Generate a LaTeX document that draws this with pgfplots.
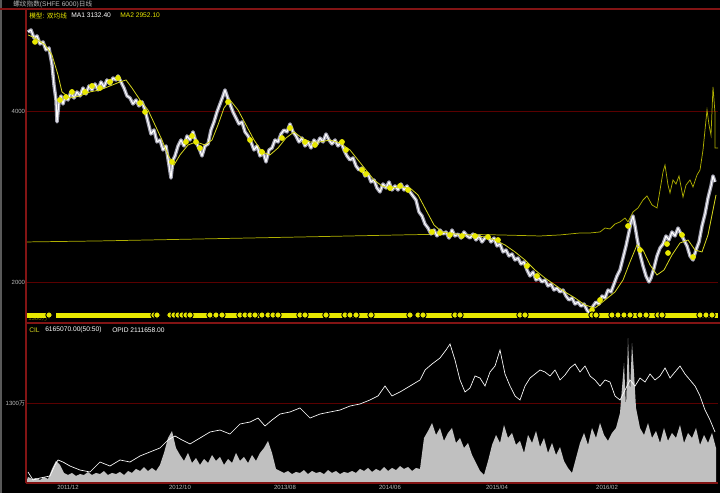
\documentclass[border=0pt]{standalone}
\usepackage{fontspec}
\setmainfont{Liberation Sans}
\newfontfamily\cjk{Noto Sans CJK SC}
\usepackage{pgfplots}
\usepackage{pgfplotstable}
\pgfplotsset{compat=1.18}

\definecolor{frame}{RGB}{130,20,20}
\definecolor{gridred}{RGB}{90,0,0}
\definecolor{ylw}{RGB}{232,232,0}
\definecolor{ma}{RGB}{215,215,30}
\definecolor{longma}{RGB}{175,175,0}
\definecolor{txt}{RGB}{185,185,185}
\definecolor{vol}{RGB}{192,192,192}
\definecolor{band}{RGB}{160,160,175}

% daily close (bar index, price)
\pgfplotstableread{
x p
2 4925
5 4948
8 4854
11 4878
14 4784
17 4808
20 4714
23 4737
26 4539
28 4305
30 4129
31 3872
33 4106
35 4176
37 4082
39 4164
42 4129
45 4223
48 4152
51 4223
54 4176
57 4269
60 4199
63 4293
66 4246
69 4316
72 4246
75 4340
78 4281
81 4363
84 4316
87 4386
90 4363
92 4410
95 4340
98 4269
101 4176
104 4152
107 4082
110 4129
113 4059
116 4106
119 4012
122 3872
125 3731
128 3778
131 3638
134 3661
137 3544
140 3591
143 3368
145 3216
147 3427
149 3474
152 3591
155 3661
158 3591
161 3708
164 3661
167 3755
170 3638
173 3567
176 3474
179 3591
182 3614
185 3778
188 3872
191 3989
194 4082
197 4176
199 4246
201 4176
204 4082
207 3989
210 3918
213 3848
216 3872
219 3755
222 3708
225 3638
228 3544
231 3591
234 3474
237 3521
240 3404
243 3544
246 3567
249 3661
252 3638
255 3731
258 3778
261 3755
264 3848
267 3755
270 3708
273 3638
276 3684
279 3591
282 3638
285 3567
288 3661
291 3614
294 3684
297 3638
300 3731
303 3661
306 3614
309 3661
312 3591
315 3638
318 3544
321 3474
324 3427
327 3451
330 3357
333 3310
336 3333
339 3240
342 3263
345 3170
348 3193
351 3099
354 3053
357 3146
360 3099
363 3170
366 3076
369 3123
372 3076
375 3146
378 3076
381 3123
384 3053
387 3006
390 2959
393 2819
396 2772
399 2678
402 2631
405 2561
408 2608
411 2538
414 2608
417 2561
420 2585
423 2514
426 2608
429 2538
432 2561
435 2514
438 2585
441 2538
444 2514
447 2561
450 2491
453 2538
456 2468
459 2514
462 2538
465 2468
468 2514
471 2421
474 2444
477 2351
480 2374
483 2304
486 2327
489 2257
492 2280
495 2210
498 2234
501 2140
504 2070
507 2117
510 2023
513 2046
516 2000
519 2023
522 1953
525 1976
528 1906
531 1929
534 1883
537 1906
540 1836
543 1789
546 1813
549 1742
552 1766
555 1717
558 1742
561 1671
564 1625
567 1717
570 1766
573 1742
576 1836
579 1813
582 1906
585 1883
588 1976
591 2070
594 2140
597 2280
600 2421
603 2585
605 2702
607 2772
609 2655
611 2514
614 2327
617 2187
620 2070
623 2000
625 2046
628 2163
631 2304
634 2397
637 2444
640 2538
643 2491
646 2585
649 2538
652 2631
655 2561
658 2491
661 2421
664 2304
667 2257
670 2374
673 2468
676 2655
679 2795
682 2982
685 3123
687 3240
689 3170
}\pricedata

\pgfplotsset{
  panel/.style={
    scale only axis, width=519pt, xmin=0, xmax=692,
    axis line style={draw=none}, major tick length=0pt,
    ymajorgrids, grid style={gridred, line width=0.6pt},
    tick label style={font=\fontsize{4.5}{5}\selectfont, text=txt, inner sep=0.5pt},
    /pgf/number format/assume math mode=true,
    scaled y ticks=false,
  }
}

\begin{document}
\begin{tikzpicture}
\fill[black] (0,0) rectangle (540pt,369.75pt);
\useasboundingbox (0,0) rectangle (540pt,369.75pt);

\begin{scope}[x=0.75pt,y=-0.75pt,shift={(0pt,369.75pt)}]
  \fill[black!65] (0,0) rectangle (1.5,493);
  \node[anchor=west, inner sep=0, text=longma!70!black, font=\fontsize{4.5}{5}\selectfont] at (28,318) {1300{\cjk 万}};
\end{scope}

% price panel
\begin{axis}[panel, at={(19.5pt,127.5pt)}, anchor=south west, height=235.5pt,
  ymin=1520, ymax=5193, xtick=\empty, ytick={2000,4000}, yticklabels={2000,4000},
  unbounded coords=jump]
% long-term line
\addplot[longma, line width=0.55pt] coordinates {
(0,2468)(74,2480)(174,2503)(274,2526)(374,2550)(424,2561)(474,2550)(514,2538)(534,2550)
(554,2573)(564,2573)(574,2585)(579,2631)(584,2620)(589,2678)(594,2702)(599,2748)(602,2702)
(607,2819)(612,2866)(617,2959)(621,3006)(626,2901)(631,2866)(634,3076)(637,3287)(639,3368)
(642,3134)(644,3041)(647,3193)(650,3146)(653,3240)(657,2994)(660,3134)(664,3193)(667,3111)
(671,3251)(674,3310)(677,3544)(679,3778)(681,4012)(683,3837)(685,3719)(687,4281)(689,3977)
(689,3567)(692,3567)};
% price band and price line
\addplot[band, line width=2.6pt, line join=round] table[x=x, y=p] {\pricedata};
\addplot[white, line width=0.8pt, line join=round] table[x=x, y=p] {\pricedata};
% moving average
\addplot[ma, line width=0.6pt] coordinates {
(2,4890)(9,4854)(19,4773)(26,4656)(32,4422)(36,4223)(44,4152)(54,4176)(64,4223)(74,4246)
(84,4293)(94,4340)(100,4363)(106,4269)(114,4129)(122,4012)(129,3837)(136,3661)(142,3486)
(148,3368)(154,3486)(162,3602)(170,3638)(179,3602)(186,3661)(192,3837)(198,4035)(204,4129)
(212,4012)(220,3837)(228,3661)(236,3521)(244,3486)(252,3567)(260,3684)(268,3755)(276,3684)
(284,3638)(294,3638)(304,3661)(314,3626)(324,3544)(332,3427)(340,3310)(348,3193)(356,3123)
(364,3099)(374,3111)(384,3099)(392,3018)(400,2842)(408,2667)(416,2585)(429,2561)(444,2550)
(459,2526)(469,2491)(479,2433)(489,2351)(499,2257)(509,2140)(519,2046)(529,1965)(539,1883)
(549,1813)(559,1731)(569,1695)(579,1789)(589,1883)(597,2023)(604,2234)(611,2433)(617,2374)
(624,2199)(631,2082)(638,2140)(646,2316)(654,2456)(662,2491)(669,2374)(676,2351)(682,2550)
(688,2901)(690,3018)};
% crossover dots
\addplot[only marks, mark=*, mark size=1.9pt, mark options={fill=ylw, draw=ylw}] coordinates {
(9,4808)(34,4129)(40,4164)(46,4223)(59,4223)(66,4293)(74,4269)(84,4340)(92,4386)(114,4094)
(119,3989)(146,3404)(160,3638)(166,3708)(170,3638)(174,3567)(202,4106)(224,3661)(236,3521)
(256,3684)(264,3801)(279,3638)(289,3602)(316,3638)(320,3544)(336,3310)(340,3263)(364,3099)
(374,3123)(382,3076)(406,2585)(414,2573)(424,2550)(436,2538)(449,2538)(462,2526)(472,2491)
(501,2187)(511,2070)(566,1671)(574,1789)(602,2655)(614,2374)(641,2444)(642,2339)(656,2550)
(667,2292)};
% signal strip
\addplot[ylw, line width=3.8pt] coordinates {
(0,1613)(24,1613)(27,nan)(30,1613)(131,1613)(137,nan)(144,1613)(189,1613)(192,nan)
(196,1613)(214,1613)(216,nan)(219,1613)(236,1613)(239,nan)(242,1613)(274,1613)(276,nan)
(279,1613)(319,1613)(321,nan)(324,1613)(384,1613)(388,nan)(392,1613)(429,1613)(431,nan)
(434,1613)(494,1613)(496,nan)(499,1613)(692,1613)};
\addplot[only marks, mark=*, mark size=2.4pt, mark options={fill=ylw, draw=black, line width=0.7pt}] coordinates {
(23,1613)(128,1613)(131,1613)(144,1613)(148,1613)(152,1613)(156,1613)(160,1613)(164,1613)
(184,1613)(190,1613)(196,1613)(214,1613)(219,1613)(224,1613)(229,1613)(236,1613)(242,1613)
(247,1613)(252,1613)(274,1613)(279,1613)(300,1613)(319,1613)(324,1613)(330,1613)(345,1613)
(384,1613)(392,1613)(397,1613)(429,1613)(434,1613)(494,1613)(499,1613)(566,1613)(570,1613)
(586,1613)(592,1613)(598,1613)(604,1613)(614,1613)(620,1613)(632,1613)(636,1613)(674,1613)
(680,1613)(686,1613)};
\end{axis}

% volume / open interest panel
\begin{axis}[panel, at={(19.5pt,7.5pt)}, anchor=south west, height=120pt,
  ymin=0, ymax=2600, ytick={1300}, yticklabels={1300{\cjk 万}},
  xtick={42,154,259,364,471,581},
  xticklabels={2011/12,2012/10,2013/08,2014/06,2015/04,2016/02},
  xticklabel shift=1.2pt]
\addplot[fill=vol, draw=none] coordinates {
(0,0)(2,98)(6,65)(10,81)(14,49)(18,98)(22,65)(26,228)(30,358)(34,293)(38,163)(42,130)(46,163)
(50,114)(54,146)(58,130)(62,179)(66,130)(70,163)(74,146)(78,195)(82,130)(86,163)(90,146)
(94,179)(98,130)(102,195)(106,163)(110,228)(114,195)(118,260)(122,195)(126,244)(130,195)
(134,293)(138,488)(142,731)(146,845)(150,569)(154,455)(158,358)(162,488)(166,325)(170,406)
(174,293)(178,390)(182,325)(186,455)(190,358)(194,423)(198,293)(202,390)(206,325)(210,488)
(214,358)(218,423)(222,325)(226,455)(230,358)(234,488)(238,569)(242,683)(246,488)(250,228)
(254,195)(258,163)(262,195)(266,146)(270,179)(274,163)(278,211)(282,146)(286,195)(290,163)
(294,179)(298,146)(302,211)(306,163)(310,195)(314,146)(318,179)(322,163)(326,195)(330,163)
(334,228)(338,195)(342,244)(346,179)(350,228)(354,195)(358,260)(362,195)(366,244)(370,211)
(374,276)(378,228)(382,260)(386,195)(390,244)(394,228)(398,731)(402,845)(406,975)(410,780)
(414,894)(418,683)(422,813)(426,894)(430,650)(434,731)(438,569)(442,650)(446,455)(450,325)
(454,195)(458,130)(462,358)(466,618)(470,780)(474,650)(478,943)(482,731)(486,813)(490,618)
(494,683)(498,488)(502,780)(506,650)(510,845)(514,585)(518,731)(522,488)(526,650)(530,455)
(534,585)(538,358)(542,244)(546,163)(550,406)(554,650)(558,813)(562,618)(566,894)(570,731)
(574,975)(578,780)(582,683)(586,813)(590,894)(594,1138)(598,1950)(600,1219)(602,2356)
(604,1463)(606,2275)(608,1788)(610,1219)(614,894)(618,780)(622,975)(626,731)(630,845)
(634,650)(638,894)(642,683)(646,813)(650,731)(654,943)(658,650)(662,813)(666,731)(670,894)
(674,618)(678,780)(682,650)(686,813)(690,569)(690,0)} \closedcycle;
\addplot[white, line width=0.5pt] coordinates {
(2,179)(7,49)(14,81)(24,114)(29,293)(32,374)(37,341)(44,276)(54,211)(64,179)(74,341)(84,276)
(94,374)(104,341)(114,439)(124,504)(134,569)(142,699)(149,764)(156,699)(164,634)(174,731)
(184,829)(194,861)(204,796)(214,959)(224,991)(232,1056)(239,926)(246,1024)(254,1121)
(264,1154)(274,1219)(284,1056)(294,1121)(304,1154)(314,1186)(324,1251)(334,1284)(344,1349)
(352,1414)(359,1576)(366,1414)(374,1479)(384,1576)(394,1674)(399,1836)(406,1934)(414,2031)
(420,2161)(424,2259)(429,1999)(434,1674)(439,1479)(444,1544)(449,1739)(454,1706)(459,1576)
(464,1804)(469,1901)(474,2161)(479,1771)(484,1576)(489,1414)(494,1349)(499,1576)(504,1706)
(509,1771)(514,1836)(519,1804)(524,1739)(529,1836)(534,1674)(539,1755)(544,1869)(549,1934)
(554,1804)(559,1901)(564,1739)(569,1674)(574,1576)(579,1674)(584,1641)(589,1414)(594,1349)
(599,1511)(604,1674)(609,1576)(614,1706)(619,1641)(624,1771)(629,1674)(634,1739)(639,1869)
(644,1706)(649,1804)(654,1901)(659,1771)(664,1674)(669,1576)(674,1414)(679,1186)(684,1024)
(689,829)};
\end{axis}

\begin{scope}[x=0.75pt,y=-0.75pt,shift={(0pt,369.75pt)}]
  \draw[frame, line width=0.8pt] (0,9) -- (720,9);
  \draw[frame, line width=0.8pt] (26,9) -- (26,483);
  \draw[frame, line width=0.8pt] (26,323) -- (720,323);
  \draw[frame, line width=0.8pt] (26,483) -- (718,483);
  \begin{scope}[every node/.style={anchor=west, inner sep=0, font=\fontsize{5}{6}\selectfont}]
    \node[text=txt] at (13,4.5) {{\cjk 螺纹指数}(SHFE 6000){\cjk 日线}};
    \node[text=ylw] at (29,15.5) {{\cjk 模型}: {\cjk 双均线}};
    \node[text=white] at (71,15.5) {MA1 3132.40};
    \node[text=ylw] at (120,15.5) {MA2 2952.10};
    \node[text=ma] at (29,330) {CIL};
    \node[text=white] at (45,330) {6165070.00(50:50)};
    \node[text=white] at (112,330) {OPID 2111658.00};
  \end{scope}
\end{scope}
\end{tikzpicture}
\end{document}
